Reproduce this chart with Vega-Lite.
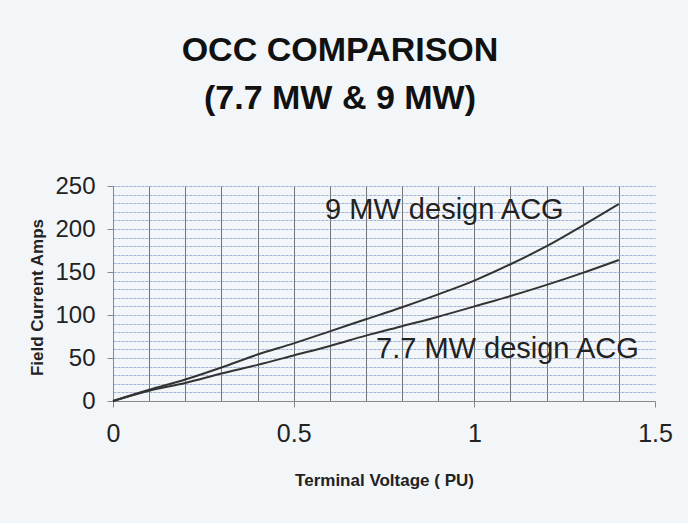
{
  "$schema": "https://vega.github.io/schema/vega-lite/v6.json",
  "width": 542,
  "height": 215,
  "autosize": {"type": "none"},
  "padding": {"left": 113, "top": 186, "right": 33, "bottom": 122},
  "background": "#f2f6f9",
  "config": {"view": {"stroke": null}, "font": "Liberation Sans"},
  "title": {
    "text": ["OCC COMPARISON", "(7.7 MW & 9 MW)"],
    "fontSize": 34,
    "fontWeight": "bold",
    "font": "Liberation Sans",
    "color": "#111111",
    "anchor": "middle",
    "dx": -44,
    "offset": 58,
    "lineHeight": 48
  },
  "datasets": {
    "curves": [
      {"series": "9 MW", "voltage": 0, "current": 0},
      {"series": "9 MW", "voltage": 0.1, "current": 13},
      {"series": "9 MW", "voltage": 0.2, "current": 25},
      {"series": "9 MW", "voltage": 0.3, "current": 39},
      {"series": "9 MW", "voltage": 0.4, "current": 54},
      {"series": "9 MW", "voltage": 0.5, "current": 67},
      {"series": "9 MW", "voltage": 0.6, "current": 81},
      {"series": "9 MW", "voltage": 0.7, "current": 95},
      {"series": "9 MW", "voltage": 0.8, "current": 109},
      {"series": "9 MW", "voltage": 0.9, "current": 124},
      {"series": "9 MW", "voltage": 1.0, "current": 140},
      {"series": "9 MW", "voltage": 1.1, "current": 159},
      {"series": "9 MW", "voltage": 1.2, "current": 180},
      {"series": "9 MW", "voltage": 1.3, "current": 204},
      {"series": "9 MW", "voltage": 1.4, "current": 229},
      {"series": "7.7 MW", "voltage": 0, "current": 0},
      {"series": "7.7 MW", "voltage": 0.1, "current": 12},
      {"series": "7.7 MW", "voltage": 0.2, "current": 21},
      {"series": "7.7 MW", "voltage": 0.3, "current": 32},
      {"series": "7.7 MW", "voltage": 0.4, "current": 42},
      {"series": "7.7 MW", "voltage": 0.5, "current": 53},
      {"series": "7.7 MW", "voltage": 0.6, "current": 64},
      {"series": "7.7 MW", "voltage": 0.7, "current": 76},
      {"series": "7.7 MW", "voltage": 0.8, "current": 87},
      {"series": "7.7 MW", "voltage": 0.9, "current": 98},
      {"series": "7.7 MW", "voltage": 1.0, "current": 110},
      {"series": "7.7 MW", "voltage": 1.1, "current": 122},
      {"series": "7.7 MW", "voltage": 1.2, "current": 135},
      {"series": "7.7 MW", "voltage": 1.3, "current": 149},
      {"series": "7.7 MW", "voltage": 1.4, "current": 164}
    ],
    "labels": [
      {"label": "9 MW design ACG", "voltage": 0.587, "current": 222},
      {"label": "7.7 MW design ACG", "voltage": 0.728, "current": 61}
    ]
  },
  "resolve": {"axis": {"x": "independent", "y": "independent"}},
  "layer": [
    {
      "data": {"name": "curves"},
      "mark": {"type": "line", "stroke": "#333333", "strokeWidth": 2, "interpolate": "monotone"},
      "encoding": {
        "x": {
          "field": "voltage", "type": "quantitative",
          "scale": {"domain": [0, 1.5], "nice": false},
          "axis": {
            "orient": "bottom", "title": null, "labels": false, "ticks": false, "domain": false,
            "grid": true, "gridColor": "#555555", "gridWidth": 1, "gridOpacity": 0.8,
            "values": [0, 0.1, 0.2, 0.3, 0.4, 0.5, 0.6, 0.7, 0.8, 0.9, 1.0, 1.1, 1.2, 1.3, 1.4]
          }
        },
        "y": {
          "field": "current", "type": "quantitative",
          "scale": {"domain": [0, 250], "nice": false},
          "axis": {
            "orient": "left", "title": null, "labels": false, "ticks": false, "domain": false,
            "grid": true, "gridColor": "#7f95c4", "gridWidth": 1, "gridOpacity": 0.7, "gridDash": [3, 1],
            "values": [0, 10, 20, 30, 40, 50, 60, 70, 80, 90, 100, 110, 120, 130, 140, 150, 160, 170, 180, 190, 200, 210, 220, 230, 240, 250]
          }
        },
        "detail": {"field": "series", "type": "nominal"}
      }
    },
    {
      "data": {"name": "labels"},
      "mark": {"type": "text", "align": "left", "baseline": "middle", "fontSize": 29, "color": "#222222", "font": "Liberation Sans"},
      "encoding": {
        "x": {
          "field": "voltage", "type": "quantitative",
          "axis": {
            "orient": "bottom", "title": "Terminal Voltage ( PU)",
            "titleFontSize": 17, "titleFontWeight": "bold", "titleColor": "#222222",
            "titleBaseline": "middle", "titleY": 79,
            "values": [0, 0.5, 1, 1.5], "format": ".1~f",
            "labelFontSize": 25, "labelColor": "#222222", "labelPadding": 14, "labelFlush": false,
            "tickSize": 6, "tickColor": "#888888", "domainColor": "#888888", "grid": false
          }
        },
        "y": {
          "field": "current", "type": "quantitative",
          "axis": {
            "orient": "left", "title": "Field Current Amps",
            "titleFontSize": 17, "titleFontWeight": "bold", "titleColor": "#222222",
            "titleX": -76, "titleY": 111, "titleAngle": -90, "titleAlign": "center", "titleBaseline": "middle",
            "values": [0, 50, 100, 150, 200, 250],
            "labelFontSize": 24, "labelColor": "#222222", "labelPadding": 12,
            "tickSize": 6, "tickColor": "#888888", "domainColor": "#888888", "grid": false
          }
        },
        "text": {"field": "label", "type": "nominal"}
      }
    }
  ]
}
